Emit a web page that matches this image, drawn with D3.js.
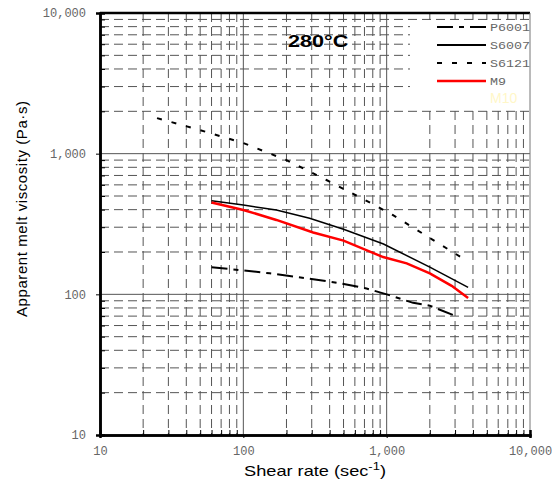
<!DOCTYPE html>
<html>
<head>
<meta charset="utf-8">
<script src="https://cdn.jsdelivr.net/npm/d3@7/dist/d3.min.js"></script>
<style>
  body { margin: 0; background: #fff; }
  svg { display: block; }
</style>
</head>
<body>
<div id="chart"></div>
<script>
// Data (shear rate in 1/s, viscosity in Pa·s)
const seriesNames = ["P6001", "S6007", "S6121", "M9", "M10"];

const shearP6001 = [60, 100, 153, 307, 472, 724, 1000, 1530, 2000, 3150];
const viscP6001  = [156, 148, 141, 128, 120, 110, 100, 87, 83, 69];

const shearS6007 = [60, 100, 170, 290, 500, 950, 2000, 3700];
const viscS6007  = [463, 431, 398, 347, 290, 228, 156, 112];

const shearS6121 = [25, 50, 100, 200, 380, 760, 1100, 2100, 3700];
const viscS6121  = [1790, 1470, 1190, 900, 650, 450, 367, 244, 171];

const shearM9 = [60, 100, 170, 307, 500, 945, 1380, 2000, 2840, 3700];
const viscM9  = [449, 398, 338, 275, 241, 184, 166, 141, 115, 94];

const decadeTicks = [10, 100, 1000, 10000];

// Chart constants
const w = 552;
const h = 485;
const pLeft = 100, pRight = 530, pTop = 13, pBottom = 435;
const sansFont = "Arial, 'Liberation Sans', sans-serif";
const tickFont = "'Liberation Mono', 'Courier New', monospace";

const svg = d3.select("#chart")
              .append("svg")
              .attr("width", w)
              .attr("height", h);

const xScale = d3.scaleLog().domain([10, 10000]).range([pLeft, pRight]);
const yScale = d3.scaleLog().domain([10, 10000]).range([pBottom, pTop]);

// minor values 2..9 in each decade
const minorTicks = [];
decadeTicks.slice(0, 3).forEach(d => {
    for (let k = 2; k <= 9; k++) minorTicks.push(d * k);
});
const innerMajors = [100, 1000];

// grid
const grid = svg.append("g");
grid.selectAll("line.vminor")
    .data(minorTicks)
    .enter().append("line")
    .attr("x1", d => xScale(d)).attr("x2", d => xScale(d))
    .attr("y1", pTop).attr("y2", pBottom)
    .attr("stroke", "#555").attr("stroke-width", 1)
    .attr("stroke-dasharray", "9,5");
grid.selectAll("line.hminor")
    .data(minorTicks)
    .enter().append("line")
    .attr("y1", d => yScale(d)).attr("y2", d => yScale(d))
    .attr("x1", pLeft).attr("x2", pRight)
    .attr("stroke", "#555").attr("stroke-width", 1)
    .attr("stroke-dasharray", "9,5");
grid.selectAll("line.vmajor")
    .data(innerMajors)
    .enter().append("line")
    .attr("x1", d => xScale(d)).attr("x2", d => xScale(d))
    .attr("y1", pTop).attr("y2", pBottom)
    .attr("stroke", "#555").attr("stroke-width", 1);
grid.selectAll("line.hmajor")
    .data(innerMajors)
    .enter().append("line")
    .attr("y1", d => yScale(d)).attr("y2", d => yScale(d))
    .attr("x1", pLeft).attr("x2", pRight)
    .attr("stroke", "#555").attr("stroke-width", 1);

// legend background hides grid behind it
svg.append("rect")
   .attr("x", 410).attr("y", 20)
   .attr("width", pRight - 410).attr("height", 86)
   .attr("fill", "#fff");

// frame: top and right
svg.append("line")
   .attr("x1", pLeft).attr("x2", pRight).attr("y1", pTop).attr("y2", pTop)
   .attr("stroke", "#000").attr("stroke-width", 2.5);
svg.append("line")
   .attr("x1", pRight).attr("x2", pRight).attr("y1", pTop).attr("y2", pBottom)
   .attr("stroke", "#777").attr("stroke-width", 1);

// axes
const fmt = d3.format(",");

const xAxis = svg.append("g")
   .attr("transform", `translate(0,${pBottom})`)
   .call(d3.axisBottom(xScale).tickValues(decadeTicks).tickFormat(fmt).tickSize(3).tickPadding(8));
const xMinor = svg.append("g")
   .attr("transform", `translate(0,${pBottom})`)
   .call(d3.axisBottom(xScale).tickValues(minorTicks).tickFormat("").tickSize(-5));

const yAxis = svg.append("g")
   .attr("transform", `translate(${pLeft},0)`)
   .call(d3.axisLeft(yScale).tickValues(decadeTicks).tickFormat(fmt).tickSize(4).tickPadding(10));
const yMinor = svg.append("g")
   .attr("transform", `translate(${pLeft},0)`)
   .call(d3.axisLeft(yScale).tickValues(minorTicks).tickFormat("").tickSize(-5));

[xAxis, yAxis, xMinor, yMinor].forEach(a => {
    a.select(".domain").attr("stroke", "#000").attr("stroke-width", 2.5);
    a.selectAll(".tick line").attr("stroke", "#000").attr("stroke-width", 1);
    a.selectAll(".tick text")
     .attr("font-family", tickFont)
     .attr("font-size", 12)
     .attr("fill", "#666");
});

// series
const line = d3.line().x(d => xScale(d[0])).y(d => yScale(d[1]));
const zip = (xs, ys) => xs.map((x, i) => [x, ys[i]]);

const styles = {
    P6001: { color: "#000", width: 2, dash: "16,6,5,6" },
    S6007: { color: "#000", width: 1.5, dash: null },
    S6121: { color: "#000", width: 2, dash: "5,10" },
    M9:    { color: "#ff0000", width: 2.5, dash: null },
    M10:   { color: "#fffbd0", width: 2, dash: null }
};

const seriesData = [
    ["S6121", zip(shearS6121, viscS6121)],
    ["P6001", zip(shearP6001, viscP6001)],
    ["S6007", zip(shearS6007, viscS6007)],
    ["M9", zip(shearM9, viscM9)]
];

seriesData.forEach(([name, pts]) => {
    const s = styles[name];
    svg.append("path")
       .datum(pts)
       .attr("d", line)
       .attr("fill", "none")
       .attr("stroke", s.color)
       .attr("stroke-width", s.width)
       .attr("stroke-dasharray", s.dash);
});

// legend
const legend = svg.append("g");
seriesNames.forEach((name, i) => {
    const y = 27 + i * 18;
    const s = styles[name];
    if (name !== "M10") {
        legend.append("line")
              .attr("x1", 437).attr("x2", 486)
              .attr("y1", y).attr("y2", y)
              .attr("stroke", s.color)
              .attr("stroke-width", name === "M9" ? 2.5 : 2)
              .attr("stroke-dasharray", s.dash);
    }
    const t = legend.append("text")
          .attr("x", 490).attr("y", y + 4)
          .attr("font-size", name === "M10" ? 14 : 11)
          .attr("fill", name === "M10" ? "#fff7c8" : "#666")
          .attr("font-family", name === "M10" ? sansFont : tickFont)
          .text(name);
    if (name !== "M10") {
        t.attr("textLength", name.length * 8)
         .attr("lengthAdjust", "spacingAndGlyphs");
    }
});

// temperature note
svg.append("text")
   .attr("transform", "translate(288,47) scale(1.35,1)")
   .attr("font-family", sansFont)
   .attr("font-weight", "bold")
   .attr("font-size", 16)
   .text("280°C");

// axis titles
const xTitle = svg.append("text")
   .attr("transform", `translate(${(pLeft + pRight) / 2},476) scale(1.3,1)`)
   .attr("text-anchor", "middle")
   .attr("font-family", sansFont)
   .attr("font-size", 14);
xTitle.append("tspan").text("Shear rate (sec");
xTitle.append("tspan").attr("dy", -6).attr("font-size", 10).text("-1");
xTitle.append("tspan").attr("dy", 6).text(")");

svg.append("text")
   .attr("transform", "translate(27,209) rotate(-90)")
   .attr("text-anchor", "middle")
   .attr("font-family", sansFont)
   .attr("font-size", 15)
   .attr("textLength", 216)
   .attr("lengthAdjust", "spacing")
   .text("Apparent melt viscosity (Pa·s)");
</script>
</body>
</html>
